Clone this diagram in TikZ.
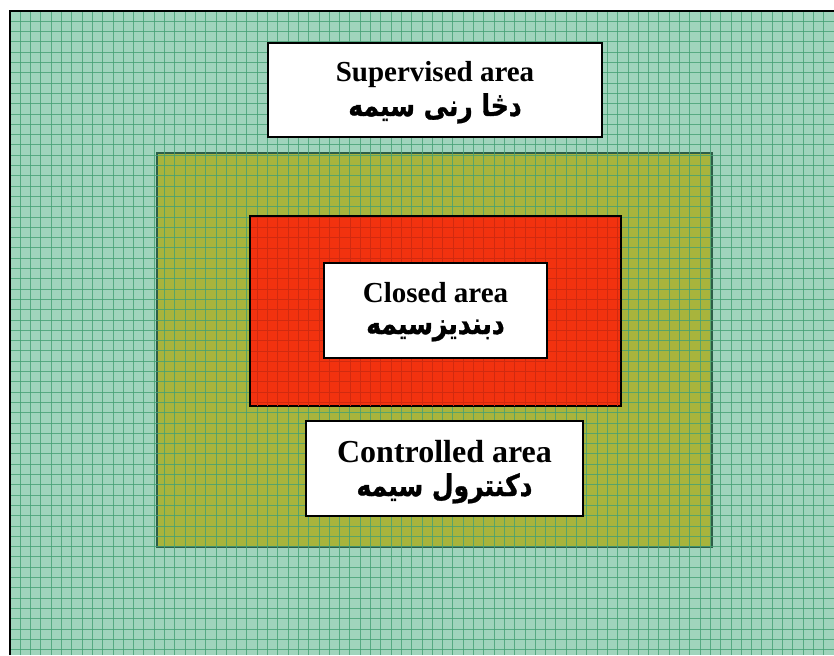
\documentclass[tikz,border=0pt]{standalone}
\usepackage{fontspec}
\setmainfont{Liberation Serif}
\newfontfamily\arabicfont[Script=Arabic, BoldFeatures={FakeBold=1.2}]{DejaVu Sans}
\TeXXeTstate=1
\definecolor{bggreen}{HTML}{A0D4BC}
\definecolor{gridgreen}{HTML}{45A074}
\definecolor{olivefill}{HTML}{A8B43C}
\definecolor{oliveedge}{HTML}{2D5E48}
\definecolor{redfill}{HTML}{F2320F}
\definecolor{redgrid}{HTML}{D02A10}
\tikzset{
  whitebox/.style={draw=black, line width=2pt, fill=white, inner sep=0pt},
  entext/.style={font=\fontsize{29}{34}\selectfont\bfseries, anchor=base, inner sep=0pt},
  artext/.style={font=\fontsize{25}{30}\selectfont\arabicfont\bfseries, anchor=base, inner sep=0pt, yscale=1.2},
}
\begin{document}
\begin{tikzpicture}[x=1pt,y=-1pt]
\useasboundingbox (0,0) rectangle (834,655);
% background
\fill[white] (0,0) rectangle (834,655);
\fill[bggreen] (10,11) rectangle (834,655);
% olive area
\node[draw=oliveedge, line width=2pt, fill=olivefill, minimum width=555pt, minimum height=394pt, inner sep=0pt] (olive) at (434.5,350) {};
% grid
\begin{scope}
\clip (10,11) rectangle (834,655);
\foreach \i in {0,...,79} {
  \draw[gridgreen, line width=0.9pt, opacity=0.8] ({10+10.3*\i},11) -- ({10+10.3*\i},655);
}
\foreach \j in {0,...,63} {
  \draw[gridgreen, line width=0.9pt, opacity=0.8] (10,{11+10.3*\j}) -- (834,{11+10.3*\j});
}
\end{scope}
% red area
\node[draw=black, line width=2pt, fill=redfill, minimum width=371pt, minimum height=190pt, inner sep=0pt] (red) at (435.5,311) {};
\begin{scope}
\clip (251,217) rectangle (620,405);
\foreach \i in {0,...,79} {
  \draw[redgrid, line width=0.8pt] ({10+10.3*\i},11) -- ({10+10.3*\i},655);
}
\foreach \j in {0,...,63} {
  \draw[redgrid, line width=0.8pt] (10,{11+10.3*\j}) -- (834,{11+10.3*\j});
}
\end{scope}
% frame
\draw[black, line width=2pt] (10,655) -- (10,11) -- (834,11);
% white label boxes
\node[whitebox, minimum width=334pt, minimum height=94pt] (sup) at (435,90) {};
\node[whitebox, minimum width=223pt, minimum height=95pt] (closed) at (435.5,310.5) {};
\node[whitebox, minimum width=277pt, minimum height=95pt] (ctrl) at (444.5,468.5) {};
% texts
\node[entext] (supen) at (435,82) {Supervised area};
\node[artext] (supar) at (435,116) {\beginR دڅا رنی سیمه\endR};
\node[entext] (closeden) at (435.5,302) {Closed area};
\node[artext] (closedar) at (435.5,334) {\beginR دبندیزسیمه\endR};
\node[entext, font=\fontsize{32}{36}\selectfont\bfseries] (ctrlen) at (444.5,462) {Controlled area};
\node[artext] (ctrlar) at (444.5,496) {\beginR دکنترول سیمه\endR};
\end{tikzpicture}
\end{document}
